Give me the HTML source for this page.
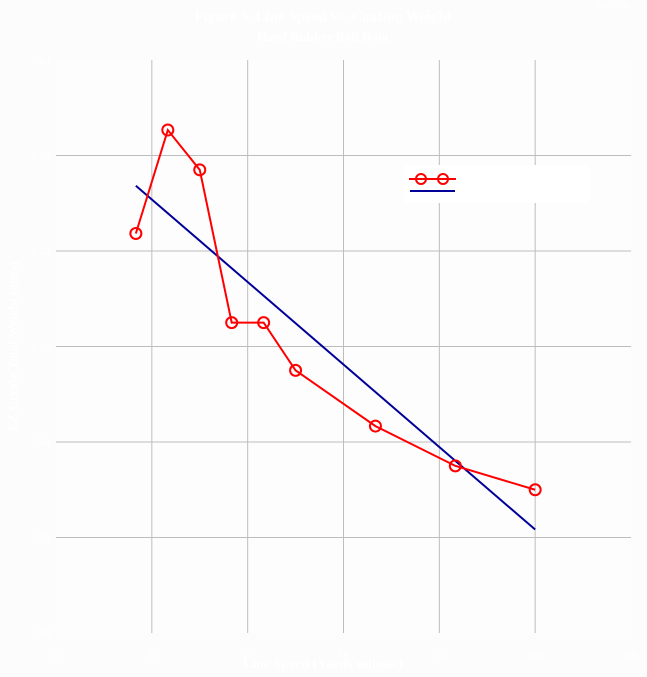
<!DOCTYPE html>
<html><head><meta charset="utf-8"><style>
html,body{margin:0;padding:0;background:#fcfcfc;}
svg{display:block;font-family:"Liberation Serif",serif;}
</style></head><body>
<svg id="chart" width="647" height="677">
<rect x="0" y="0" width="647" height="677" fill="#fcfcfc"/>
<rect x="56" y="60" width="575" height="573" fill="#fdfdfd"/>
<text x="323" y="21" text-anchor="middle" font-size="15" font-weight="bold" fill="#ffffff">Figure 3.  Line Speed vs. Coating  Weight</text>
<text x="323" y="41" text-anchor="middle" font-size="13" font-weight="bold" fill="#ffffff">Hard Rubber Roll Data</text>
<text x="630" y="8" text-anchor="end" font-size="9" fill="#ffffff">02/17/06</text>
<text x="323" y="668" text-anchor="middle" font-size="14" font-weight="bold" fill="#ffffff">Line Speed (Yards/minute)</text>
<text transform="translate(17,346) rotate(-90)" text-anchor="middle" font-size="13" font-weight="bold" fill="#ffffff">EZ Crease Total Weight (gpsy)</text>
<g id="grid"></g><g id="series"></g>
<g>
<rect x="404" y="165" width="186" height="38" fill="#ffffff"/>
<line x1="409" y1="179" x2="456" y2="179" stroke="#ff0000" stroke-width="2"/>
<circle cx="421" cy="179" r="5" fill="none" stroke="#ff0000" stroke-width="2"/>
<circle cx="443" cy="179" r="5" fill="none" stroke="#ff0000" stroke-width="2"/>
<line x1="410" y1="191" x2="455" y2="191" stroke="#000099" stroke-width="2"/>
<text x="462" y="183" font-size="11" fill="#ffffff">Measured</text>
<text x="462" y="195" font-size="11" fill="#ffffff">Linear Fit</text>
</g>
</svg>
<script>
const xTicks=[0,6,12,18,24,30,36];
const yTicks=[2.28,2.34,2.4,2.46,2.52,2.58,2.64];
const speeds=[5,7,9,11,13,15,20,25,30];
const weights=[2.531,2.596,2.571,2.475,2.475,2.445,2.410,2.385,2.370];
const fitX=[5,30];
const fitY=[2.561,2.345];
const NS="http://www.w3.org/2000/svg";
const X=v=>56+(v-0)/36*575;
const Y=v=>633-(v-2.28)/0.36*573;
function mk(t,a,p){const e=document.createElementNS(NS,t);for(const k in a)e.setAttribute(k,a[k]);p.appendChild(e);return e;}
const grid=document.getElementById('grid'),ser=document.getElementById('series');
xTicks.forEach(v=>{
 if(v>0&&v<36){const l=mk('line',{x1:X(v),x2:X(v),y1:60,y2:633,stroke:'#bdbdbd','stroke-width':1},grid);
 
 }
 const t=mk('text',{x:X(v),y:659,'text-anchor':'middle','font-size':11,fill:'#ffffff'},grid);t.textContent=v;
 
 
});
yTicks.forEach(v=>{
 if(v>2.28&&v<2.64){const l=mk('line',{x1:56,x2:631,y1:Y(v),y2:Y(v),stroke:'#bdbdbd','stroke-width':1},grid);
 
 }
 const t=mk('text',{x:50,y:Y(v)+4,'text-anchor':'end','font-size':11,fill:'#ffffff'},grid);t.textContent=v.toFixed(2);
 
 
});
const fit=mk('line',{x1:X(fitX[0]),y1:Y(fitY[0]),x2:X(fitX[1]),y2:Y(fitY[1]),stroke:'#000099','stroke-width':2},ser);


const pl=mk('polyline',{points:speeds.map((s,i)=>X(s)+','+Y(weights[i])).join(' '),fill:'none',stroke:'#ff0000','stroke-width':2},ser);


speeds.forEach((s,i)=>{
 const c=mk('circle',{cx:X(s),cy:Y(weights[i]),r:5.5,fill:'none',stroke:'#ff0000','stroke-width':2},ser);
 
 
});
</script>
</body></html>
